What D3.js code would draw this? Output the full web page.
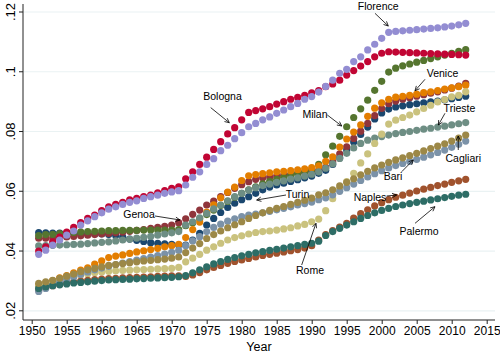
<!DOCTYPE html>
<html><head><meta charset="utf-8">
<script src="https://cdn.jsdelivr.net/npm/d3@7"></script>
<style>body{margin:0;background:#fff}svg{display:block;font-family:"Liberation Sans",Arial,sans-serif}</style>
</head><body><svg id="c" width="500" height="358"></svg>
<script>
const years = d3.range(1951, 2013);
const cities = ["Turin","Genoa","Milan","Venice","Trieste","Bologna","Florence","Rome","Naples","Bari","Palermo","Cagliari"];
const colors = ["#1a476f","#90353b","#55752f","#e37e00","#6e8e84","#c10534","#938dd2","#cac27e","#a0522d","#7b92a8","#2d6d66","#9c8847"];
const turin = [0.0462,0.0461,0.0460,0.0460,0.0459,0.0459,0.0458,0.0458,0.0457,0.0457,
0.0455,0.0452,0.0447,0.0440,0.0436,0.0432,0.0428,0.0426,0.0424,0.0422,
0.0420,0.0420,0.0437,0.0459,0.0487,0.0509,0.0529,0.0546,0.0560,0.0572,
0.0582,0.0593,0.0605,0.0614,0.0621,0.0627,0.0633,0.0639,0.0645,0.0651,
0.0660,0.0670,0.0690,0.0712,0.0738,0.0765,0.0790,0.0815,0.0842,0.0862,
0.0875,0.0882,0.0886,0.0890,0.0893,0.0896,0.0899,0.0902,0.0906,0.0910,
0.0914,0.0918];
const genoa = [0.0443,0.0443,0.0444,0.0445,0.0447,0.0449,0.0451,0.0453,0.0455,0.0457,
0.0459,0.0461,0.0463,0.0466,0.0469,0.0472,0.0476,0.0479,0.0483,0.0487,
0.0495,0.0508,0.0523,0.0537,0.0554,0.0567,0.0582,0.0596,0.0610,0.0622,
0.0632,0.0640,0.0645,0.0648,0.0651,0.0654,0.0657,0.0660,0.0663,0.0666,
0.0670,0.0680,0.0699,0.0725,0.0749,0.0777,0.0801,0.0827,0.0853,0.0877,
0.0893,0.0902,0.0908,0.0913,0.0918,0.0923,0.0928,0.0933,0.0939,0.0945,
0.0952,0.0961];
const milan = [0.0452,0.0455,0.0456,0.0458,0.0460,0.0462,0.0464,0.0465,0.0466,0.0467,
0.0468,0.0468,0.0469,0.0469,0.0469,0.0470,0.0470,0.0470,0.0470,0.0470,
0.0472,0.0485,0.0495,0.0508,0.0522,0.0537,0.0552,0.0566,0.0580,0.0593,
0.0605,0.0615,0.0625,0.0633,0.0640,0.0647,0.0653,0.0659,0.0665,0.0672,
0.0690,0.0722,0.0751,0.0784,0.0816,0.0847,0.0876,0.0905,0.0938,0.0968,
0.0999,0.1012,0.1020,0.1026,0.1032,0.1038,0.1044,0.1050,0.1056,0.1062,
0.1068,0.1074];
const venice = [0.0285,0.0293,0.0301,0.0310,0.0318,0.0327,0.0336,0.0344,0.0356,0.0367,
0.0378,0.0383,0.0387,0.0392,0.0397,0.0401,0.0405,0.0409,0.0414,0.0418,
0.0422,0.0445,0.0472,0.0497,0.0530,0.0555,0.0578,0.0597,0.0614,0.0636,
0.0652,0.0656,0.0659,0.0662,0.0665,0.0667,0.0669,0.0672,0.0675,0.0679,
0.0685,0.0700,0.0715,0.0748,0.0775,0.0798,0.0822,0.0851,0.0878,0.0896,
0.0908,0.0915,0.0918,0.0921,0.0925,0.0930,0.0933,0.0937,0.0942,0.0946,
0.0950,0.0955];
const trieste = [0.0417,0.0418,0.0419,0.0420,0.0421,0.0422,0.0423,0.0425,0.0427,0.0429,
0.0431,0.0434,0.0437,0.0440,0.0443,0.0446,0.0449,0.0453,0.0457,0.0461,
0.0465,0.0487,0.0498,0.0511,0.0526,0.0541,0.0554,0.0568,0.0582,0.0593,
0.0604,0.0612,0.0619,0.0624,0.0630,0.0635,0.0641,0.0645,0.0651,0.0657,
0.0665,0.0677,0.0692,0.0710,0.0727,0.0745,0.0760,0.0771,0.0778,0.0783,
0.0788,0.0793,0.0797,0.0800,0.0804,0.0808,0.0811,0.0815,0.0818,0.0822,
0.0826,0.0830];
const bologna = [0.0400,0.0414,0.0431,0.0447,0.0463,0.0479,0.0495,0.0509,0.0520,0.0535,
0.0548,0.0556,0.0563,0.0571,0.0576,0.0582,0.0587,0.0595,0.0602,0.0610,
0.0615,0.0642,0.0665,0.0690,0.0714,0.0740,0.0766,0.0792,0.0813,0.0839,
0.0864,0.0870,0.0876,0.0883,0.0892,0.0900,0.0908,0.0914,0.0921,0.0929,
0.0937,0.0950,0.0959,0.0972,0.0989,0.1004,0.1019,0.1034,0.1050,0.1062,
0.1067,0.1066,0.1065,0.1064,0.1063,0.1062,0.1061,0.1060,0.1059,0.1058,
0.1057,0.1056];
const florence = [0.0389,0.0403,0.0420,0.0437,0.0453,0.0467,0.0487,0.0501,0.0515,0.0528,
0.0540,0.0548,0.0556,0.0563,0.0568,0.0576,0.0582,0.0587,0.0593,0.0598,
0.0602,0.0621,0.0647,0.0665,0.0690,0.0709,0.0736,0.0754,0.0776,0.0796,
0.0816,0.0827,0.0839,0.0849,0.0861,0.0872,0.0883,0.0894,0.0908,0.0917,
0.0932,0.0951,0.0972,0.0995,0.1008,0.1034,0.1050,0.1073,0.1092,0.1112,
0.1132,0.1135,0.1137,0.1139,0.1141,0.1143,0.1145,0.1147,0.1150,0.1153,
0.1157,0.1162];
const rome = [0.0283,0.0290,0.0297,0.0303,0.0309,0.0315,0.0320,0.0324,0.0327,0.0330,
0.0332,0.0334,0.0335,0.0336,0.0337,0.0338,0.0339,0.0340,0.0341,0.0342,
0.0345,0.0364,0.0376,0.0389,0.0403,0.0414,0.0426,0.0437,0.0445,0.0451,
0.0457,0.0462,0.0465,0.0467,0.0470,0.0474,0.0478,0.0484,0.0489,0.0498,
0.0507,0.0535,0.0575,0.0608,0.0632,0.0660,0.0695,0.0725,0.0760,0.0791,
0.0825,0.0838,0.0847,0.0855,0.0866,0.0877,0.0888,0.0899,0.0907,0.0916,
0.0921,0.0933];
const naples = [0.0270,0.0278,0.0284,0.0289,0.0293,0.0296,0.0299,0.0302,0.0304,0.0306,
0.0308,0.0309,0.0310,0.0311,0.0312,0.0313,0.0314,0.0315,0.0316,0.0317,
0.0317,0.0315,0.0320,0.0328,0.0337,0.0345,0.0352,0.0359,0.0365,0.0370,
0.0375,0.0380,0.0385,0.0389,0.0393,0.0397,0.0401,0.0405,0.0410,0.0418,
0.0437,0.0455,0.0468,0.0480,0.0493,0.0510,0.0525,0.0538,0.0551,0.0562,
0.0572,0.0580,0.0587,0.0594,0.0601,0.0607,0.0613,0.0619,0.0624,0.0630,
0.0635,0.0640];
const bari = [0.0265,0.0275,0.0285,0.0295,0.0305,0.0314,0.0322,0.0330,0.0337,0.0343,
0.0349,0.0355,0.0360,0.0365,0.0370,0.0375,0.0380,0.0385,0.0390,0.0396,
0.0402,0.0418,0.0434,0.0448,0.0465,0.0479,0.0490,0.0500,0.0508,0.0515,
0.0520,0.0524,0.0528,0.0533,0.0538,0.0543,0.0548,0.0554,0.0559,0.0564,
0.0572,0.0578,0.0588,0.0600,0.0612,0.0624,0.0636,0.0648,0.0659,0.0669,
0.0678,0.0686,0.0693,0.0700,0.0707,0.0714,0.0722,0.0730,0.0738,0.0747,
0.0757,0.0768];
const palermo = [0.0275,0.0280,0.0284,0.0287,0.0290,0.0293,0.0295,0.0297,0.0299,0.0301,
0.0303,0.0304,0.0305,0.0306,0.0307,0.0308,0.0309,0.0310,0.0311,0.0312,
0.0314,0.0318,0.0327,0.0337,0.0347,0.0357,0.0365,0.0372,0.0378,0.0384,
0.0389,0.0394,0.0398,0.0402,0.0406,0.0410,0.0414,0.0418,0.0422,0.0426,
0.0433,0.0452,0.0465,0.0476,0.0487,0.0498,0.0509,0.0519,0.0528,0.0536,
0.0543,0.0549,0.0554,0.0559,0.0563,0.0567,0.0571,0.0575,0.0579,0.0583,
0.0587,0.0590];
const cagliari = [0.0292,0.0297,0.0302,0.0309,0.0316,0.0323,0.0331,0.0337,0.0342,0.0347,
0.0352,0.0355,0.0358,0.0361,0.0364,0.0367,0.0369,0.0371,0.0373,0.0376,
0.0380,0.0395,0.0410,0.0425,0.0442,0.0455,0.0467,0.0478,0.0488,0.0498,
0.0509,0.0519,0.0528,0.0536,0.0543,0.0549,0.0556,0.0563,0.0570,0.0577,
0.0588,0.0595,0.0605,0.0618,0.0630,0.0642,0.0655,0.0667,0.0678,0.0688,
0.0697,0.0705,0.0712,0.0719,0.0727,0.0735,0.0743,0.0751,0.0759,0.0768,
0.0778,0.0788];
const seriesValues = [turin,genoa,milan,venice,trieste,bologna,florence,rome,naples,bari,palermo,cagliari];
const xTicks = [1950,1955,1960,1965,1970,1975,1980,1985,1990,1995,2000,2005,2010,2015];
const yTicks = [0.02,0.04,0.06,0.08,0.10,0.12];
const yTickLabels = [".02",".04",".06",".08",".1",".12"];
const labelNames = ["Florence","Bologna","Venice","Milan","Trieste","Cagliari","Bari","Genoa","Turin","Naples","Palermo","Rome"];
const labelPos = [[1999.5,0.1208],[1977.26,0.09055],[2008.69,0.09825],[1990.47,0.08452],[2011.11,0.08653],[2011.66,0.0698],[2001.61,0.06378],[1965.33,0.05106],[1987.97,0.05775],[1998.33,0.05675],[2005.33,0.04537],[1989.76,0.03232]];
const arrowFrom = [[1999.04,0.11956],[1975.57,0.0880],[2006.19,0.09748],[1992.23,0.08553],[2009.04,0.0861],[2010.94,0.07382],[2002.86,0.06655],[1967.61,0.05173],[1986.33,0.05875],[2000.71,0.05842],[2004.76,0.04928],[1988.57,0.03533]];
const arrowTo = [[2000.94,0.11531],[1978.23,0.08295],[2004.76,0.09366],[1994.29,0.08185],[2008.09,0.08218],[2010.94,0.0785],[2004.51,0.07047],[1971.19,0.05039],[1982.14,0.05708],[2002.14,0.05875],[2007.61,0.05484],[1990.61,0.04928]];

const svg = d3.select("#c");
const x = d3.scaleLinear().domain([1950,2015]).range([31.7,486.7]);
const y = d3.scaleLinear().domain([0.02,0.12]).range([310.8,12]);
const plotLeft = 23, plotRight = 495, plotTop = 4, plotBottom = 320;

svg.append("g").selectAll("line").data(yTicks).join("line")
  .attr("x1",plotLeft).attr("x2",plotRight).attr("y1",d=>y(d)).attr("y2",d=>y(d))
  .attr("stroke","#eaf2f3").attr("stroke-width",1.2);

const gx = svg.append("g").attr("transform",`translate(0,${plotBottom})`)
  .call(d3.axisBottom(x).tickValues(xTicks).tickSize(4).tickPadding(2).tickFormat(d3.format("d")));
gx.select(".domain").remove();
gx.selectAll("line").attr("stroke","#222");
gx.selectAll("text").attr("font-size",12).attr("fill","#000").attr("font-family","Liberation Sans, Arial, sans-serif");
const gy = svg.append("g").attr("transform",`translate(${plotLeft},0)`)
  .call(d3.axisLeft(y).tickValues(yTicks).tickSize(4).tickFormat((d,i)=>yTickLabels[i]));
gy.select(".domain").remove();
gy.selectAll("line").attr("stroke","#222");
gy.selectAll(".tick").attr("transform",null);
gy.selectAll(".tick line").attr("y1",d=>y(d)).attr("y2",d=>y(d));
gy.selectAll(".tick text").attr("font-size",13).attr("fill","#000").attr("font-family","Liberation Sans, Arial, sans-serif")
  .attr("text-anchor","middle").attr("x",null).attr("dy",null).attr("y",null)
  .attr("transform",d=>`translate(-8,${y(d)}) rotate(-90)`);
svg.append("line").attr("x1",plotLeft).attr("x2",plotLeft).attr("y1",plotTop).attr("y2",plotBottom).attr("stroke","#222");
svg.append("line").attr("x1",plotLeft).attr("x2",plotRight).attr("y1",plotBottom).attr("y2",plotBottom).attr("stroke","#222");

svg.append("text").attr("x",(plotLeft+plotRight)/2).attr("y",351).attr("text-anchor","middle")
  .attr("font-size",12.5).text("Year");

seriesValues.forEach((vals,i)=>{
  svg.append("g").selectAll("circle").data(vals).join("circle")
    .attr("cx",(d,j)=>x(years[j])).attr("cy",d=>y(d)).attr("r",3.6)
    .attr("fill",colors[i]);
});

const ann = svg.append("g");
labelNames.forEach((t,i)=>{
  ann.append("text").attr("x",x(labelPos[i][0])).attr("y",y(labelPos[i][1]))
    .attr("text-anchor","middle").attr("font-size",10.5).attr("fill","#000").text(t);
  const x1=x(arrowFrom[i][0]), y1=y(arrowFrom[i][1]), x2=x(arrowTo[i][0]), y2=y(arrowTo[i][1]);
  ann.append("line").attr("x1",x1).attr("y1",y1).attr("x2",x2).attr("y2",y2)
    .attr("stroke","#000").attr("stroke-width",0.8);
  const a=Math.atan2(y2-y1,x2-x1), L=5, w=0.45;
  const p1=[x2-L*Math.cos(a-w), y2-L*Math.sin(a-w)], p2=[x2-L*Math.cos(a+w), y2-L*Math.sin(a+w)];
  ann.append("path").attr("d",`M${p1[0]},${p1[1]}L${x2},${y2}L${p2[0]},${p2[1]}`)
    .attr("fill","none").attr("stroke","#000").attr("stroke-width",0.8);
});
</script></body></html>
